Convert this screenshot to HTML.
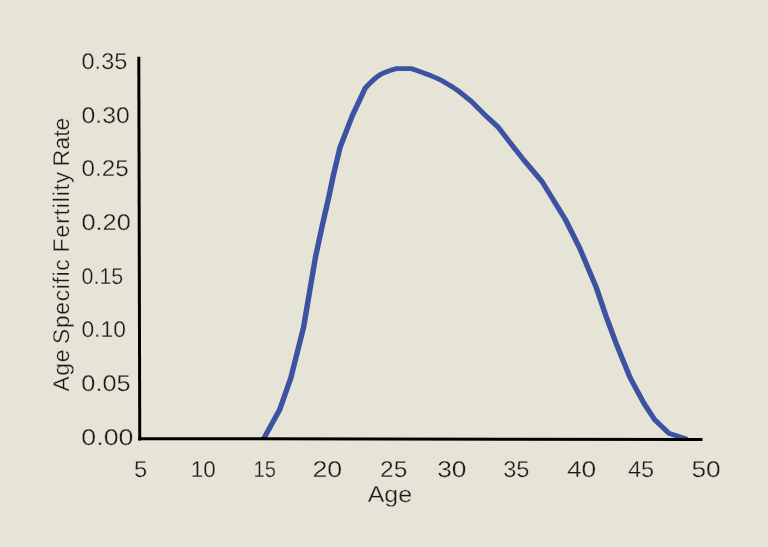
<!DOCTYPE html>
<html>
<head>
<meta charset="utf-8">
<title>Age Specific Fertility Rate</title>
<style>
html,body{margin:0;padding:0;background:#e6e4d7;}
body{width:768px;height:547px;overflow:hidden;}
svg{display:block;}
text{font-family:"Liberation Sans",sans-serif;font-size:22.8px;fill:#1a1a1a;text-rendering:geometricPrecision;stroke:#e6e4d7;stroke-width:0.3px;}
</style>
</head>
<body>
<svg width="768" height="547" viewBox="0 0 768 547">
<rect x="0" y="0" width="768" height="547" fill="#e6e4d7"/>
<clipPath id="plotclip"><rect x="0" y="0" width="768" height="439.2"/></clipPath>
<g clip-path="url(#plotclip)"><polyline transform="scale(1.15,1)" fill="none" stroke="#3e52a2" stroke-width="4.75" stroke-linejoin="round" stroke-linecap="butt"
points="229.04,439.2 243.22,409.6 252.87,378.0 264.00,327.2 274.26,257.5 280.35,225.0 286.00,196.5 289.74,176.0 295.65,147.5 306.26,116.0 317.57,88.2 319.68,85.5 322.01,82.8 324.45,80.2 326.86,77.8 329.13,75.8 331.29,74.2 333.44,73.0 335.49,72.1 337.41,71.3 339.13,70.6 340.58,70.0 341.81,69.5 342.91,69.2 343.98,68.9 345.13,68.6 357.04,68.6 357.99,68.8 358.69,69.0 359.41,69.3 360.41,69.7 361.96,70.3 364.24,71.2 367.10,72.4 370.23,73.7 373.32,75.0 376.09,76.3 378.45,77.5 380.62,78.6 382.69,79.8 384.77,81.1 386.96,82.5 389.30,84.1 391.71,85.8 394.16,87.5 396.57,89.4 398.91,91.2 409.78,101.2 420.65,113.8 433.04,127.0 443.48,142.5 455.43,160.0 471.30,181.5 491.30,218.8 504.35,248.8 518.48,287.5 527.17,316.8 535.87,343.8 547.83,377.5 559.78,403.0 569.22,419.6 581.52,433.2 597.65,439.3"/></g>
<line x1="138.8" y1="56.7" x2="139.75" y2="440.4" stroke="#000" stroke-width="3"/>
<line x1="138.35" y1="438.7" x2="702.5" y2="439.5" stroke="#000" stroke-width="3"/>
<text transform="translate(81.57,69.00) scale(1.0294,1)">0.35</text>
<text transform="translate(81.52,122.70) scale(1.0857,1)">0.30</text>
<text transform="translate(81.54,176.20) scale(1.0612,1)">0.25</text>
<text transform="translate(81.40,230.10) scale(1.1127,1)">0.20</text>
<text transform="translate(81.56,283.50) scale(0.9388,1)">0.15</text>
<text transform="translate(81.40,337.20) scale(1.0023,1)">0.10</text>
<text transform="translate(81.30,391.20) scale(1.1106,1)">0.05</text>
<text transform="translate(81.34,444.90) scale(1.1737,1)">0.00</text>
<text transform="translate(134.06,477.00) scale(1.0417,1)">5</text>
<text transform="translate(190.82,477.00) scale(0.9868,1)">10</text>
<text transform="translate(253.50,477.00) scale(0.8811,1)">15</text>
<text transform="translate(312.46,477.00) scale(1.1752,1)">20</text>
<text transform="translate(380.07,477.00) scale(1.0730,1)">25</text>
<text transform="translate(437.21,477.00) scale(1.1547,1)">30</text>
<text transform="translate(503.17,477.00) scale(1.0340,1)">35</text>
<text transform="translate(566.92,477.00) scale(1.1583,1)">40</text>
<text transform="translate(627.88,477.00) scale(1.0335,1)">45</text>
<text transform="translate(691.46,477.00) scale(1.1525,1)">50</text>
<text transform="translate(367.69,501.90) scale(1.0962,1)">Age</text>
<text transform="rotate(-90)" y="68.7"><tspan x="-391.60" letter-spacing="0.700">Age </tspan><tspan x="-344.00" letter-spacing="0.700">Specific </tspan><tspan x="-252.20" letter-spacing="0.863">Fertility </tspan><tspan x="-166.20" letter-spacing="0.100">Rate</tspan></text>
</svg>
</body>
</html>
